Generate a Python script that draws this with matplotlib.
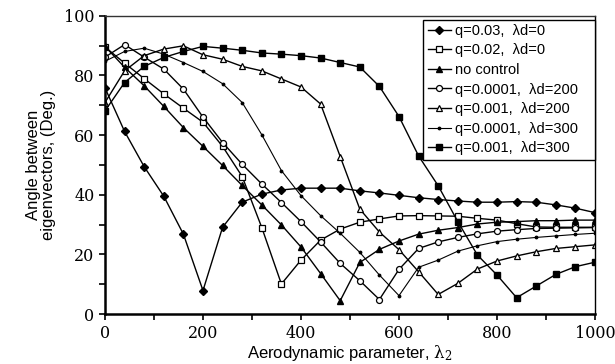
import matplotlib
matplotlib.use("Agg")
import numpy as np
import matplotlib.pyplot as plt
from matplotlib.ticker import MultipleLocator

plt.rcParams['mathtext.fontset'] = 'dejavuserif'

# x positions (aerodynamic parameter lambda_2)
lam = np.arange(0, 1001, 40)

# angle between eigenvectors (deg.)
q003_d0 = [75.8, 61.2, 49.4, 39.5, 26.8, 7.9, 29.1, 37.5, 40.2, 41.6, 42.2, 42.2, 42.2,
           41.3, 40.6, 39.8, 39.0, 38.4, 37.9, 37.5, 37.5, 37.7, 37.5, 36.6, 35.5, 34.0]
q002_d0 = [89.5, 84.1, 78.9, 73.8, 69.0, 64.3, 56.2, 46.1, 29.0, 10.1, 18.1, 24.8, 28.5,
           30.8, 31.9, 32.9, 33.0, 32.9, 32.8, 32.1, 31.5, 30.3, 29.2, 29.1, 29.1, 29.1]
no_control = [89.7, 82.7, 76.5, 69.6, 62.5, 56.2, 49.8, 43.1, 36.6, 29.9, 22.5, 13.6, 4.5,
              17.3, 21.7, 24.5, 26.8, 28.1, 29.0, 30.2, 30.8, 31.0, 31.3, 31.3, 31.5, 31.5]
q00001_d200 = [86.1, 90.3, 86.1, 82.1, 75.4, 66.0, 57.5, 50.2, 43.6, 37.4, 31.0, 24.2, 17.0,
               11.2, 4.9, 15.0, 22.0, 24.2, 25.7, 26.9, 27.8, 28.3, 28.7, 28.8, 28.9, 29.0]
q0001_d200 = [70.9, 81.5, 86.6, 88.8, 89.9, 86.9, 85.4, 83.0, 81.5, 78.8, 76.1, 70.4, 52.8,
              35.2, 27.5, 21.6, 14.2, 6.6, 10.3, 15.1, 17.8, 19.5, 20.9, 22.0, 22.6, 23.2]
q00001_d300 = [84.7, 88.0, 89.1, 87.1, 84.3, 81.3, 77.2, 70.9, 60.1, 48.1, 39.7, 33.0, 27.1,
               20.7, 13.1, 6.2, 15.7, 18.1, 21.1, 22.9, 24.3, 25.1, 25.7, 26.2, 26.7, 27.1]
q0001_d300 = [68.1, 77.6, 83.0, 86.0, 88.0, 89.7, 89.1, 88.4, 87.5, 87.1, 86.6, 85.8, 84.3,
              82.8, 76.3, 66.2, 53.0, 43.0, 31.0, 19.8, 13.1, 5.5, 9.4, 13.3, 15.9, 17.4]

fig = plt.figure(figsize=(6.15, 3.64), dpi=100)
ax = fig.add_axes([0.1707, 0.137, 0.7968, 0.820])

lw = 1.0
ax.plot(lam, q003_d0, label='q=0.03,  \u03bbd=0', color='black', lw=lw,
        marker='D', markersize=3.8)
ax.plot(lam, q002_d0, label='q=0.02,  \u03bbd=0', color='black', lw=lw,
        marker='s', markersize=4.3, markerfacecolor='white', markeredgewidth=0.9)
ax.plot(lam, no_control, label='no control', color='black', lw=lw,
        marker='^', markersize=4.8)
ax.plot(lam, q00001_d200, label='q=0.0001,  \u03bbd=200   ', color='black', lw=lw,
        marker='o', markersize=4.3, markerfacecolor='white', markeredgewidth=0.9)
ax.plot(lam, q0001_d200, label='q=0.001,  \u03bbd=200', color='black', lw=lw,
        marker='^', markersize=4.8, markerfacecolor='white', markeredgewidth=0.9)
ax.plot(lam, q00001_d300, label='q=0.0001,  \u03bbd=300', color='black', lw=0.8,
        marker='.', markersize=3.5)
ax.plot(lam, q0001_d300, label='q=0.001,  \u03bbd=300', color='black', lw=lw,
        marker='s', markersize=4.3)

ax.set_xlim(0, 1000)
ax.set_ylim(0, 100)
ax.xaxis.set_major_locator(MultipleLocator(200))
ax.xaxis.set_minor_locator(MultipleLocator(100))
ax.yaxis.set_major_locator(MultipleLocator(20))
ax.yaxis.set_minor_locator(MultipleLocator(10))
ax.tick_params(which='both', direction='out', length=4, width=1.2, top=False, right=False)
ax.tick_params(labelsize=11.5)
for lab in ax.get_xticklabels() + ax.get_yticklabels():
    lab.set_fontfamily('DejaVu Serif')

ax.spines['left'].set_linewidth(1.8)
ax.spines['bottom'].set_linewidth(1.8)
ax.spines['top'].set_linewidth(1.0)
ax.spines['right'].set_linewidth(1.0)
ax.spines['top'].set_color('#333333')

ax.set_xlabel(r'Aerodynamic parameter, $\mathrm{\lambda_2}$', fontsize=12,
              fontfamily='Liberation Sans', labelpad=1)
ax.set_ylabel('Angle between\neigenvectors, (Deg.)', fontsize=12,
              fontfamily='Liberation Sans', labelpad=6, linespacing=1.0)

leg = ax.legend(loc='upper right', bbox_to_anchor=(1.0, 0.987), borderaxespad=0,
                prop={'family': 'Liberation Sans', 'size': 10.5}, fancybox=False,
                framealpha=1, edgecolor='black', handlelength=1.6, handletextpad=0.3,
                labelspacing=0.38, borderpad=0.3)
leg.get_frame().set_linewidth(1.0)

fig.savefig('out.png', dpi=100)
